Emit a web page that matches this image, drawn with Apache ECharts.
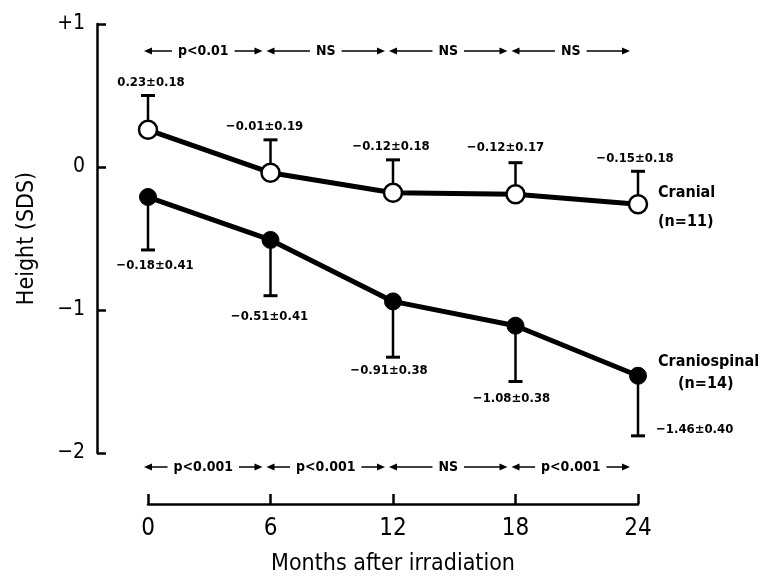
<!DOCTYPE html>
<html><head><meta charset="utf-8">
<script src="https://cdn.jsdelivr.net/npm/echarts@6/dist/echarts.min.js"></script>
<style>html,body{margin:0;padding:0;background:#fff}#c{width:762px;height:581px}</style>
</head><body><div id="c"></div>
<script>
// ---- data ----
const months = [0, 6, 12, 18, 24];
const xTickLabels = ['0', '6', '12', '18', '24'];
const yTickValues = [-2, -1, 0, 1];
const yTickLabels = ['−2', '−1', '0', '+1'];
const cranialMean = [0.26, -0.04, -0.18, -0.19, -0.26];
const cranialErr = [0.24, 0.23, 0.23, 0.22, 0.23];
const cranialText = ['0.23±0.18', '−0.01±0.19', '−0.12±0.18', '−0.12±0.17', '−0.15±0.18'];
const spinalMean = [-0.21, -0.51, -0.94, -1.11, -1.46];
const spinalErr = [0.37, 0.39, 0.39, 0.39, 0.42];
const spinalText = ['−0.18±0.41', '−0.51±0.41', '−0.91±0.38', '−1.08±0.38', '−1.46±0.40'];
const topTests = ['p<0.01', 'NS', 'NS', 'NS'];
const bottomTests = ['p<0.001', 'p<0.001', 'NS', 'p<0.001'];

// ---- layout (pixel nudges for labels) ----
const cranialDx = [3, -6, -2, -10, -3];
const cranialDy = [-13, -13, -13, -15, -13];
const spinalDx = [7, -1, -4, -4, 18];
const spinalDy = [16, 21, 13, 17, -6];
const spinalAlign = ['center', 'center', 'center', 'center', 'left'];

const COND = '"DejaVu Sans Condensed", "Liberation Sans", sans-serif';
const SMALL = 'bold 13px "DejaVu Sans Condensed", "Liberation Sans", sans-serif';

function errSeries(name, mean, err, dir, texts, dx, dy, align) {
  return {
    type: 'custom', name: name, z: 1, clip: false,
    data: months.map((m, i) => [m, mean[i], err[i]]),
    encode: { x: 0, y: 1 },
    renderItem: function (params, api) {
      const i = params.dataIndex;
      const p = api.coord([api.value(0), api.value(1)]);
      const e = api.coord([api.value(0), api.value(1) + dir * api.value(2)]);
      const cap = 7;
      return {
        type: 'group',
        children: [
          { type: 'line', shape: { x1: p[0], y1: p[1], x2: e[0], y2: e[1] }, style: { stroke: '#000', lineWidth: 2.5 } },
          { type: 'line', shape: { x1: e[0] - cap, y1: e[1], x2: e[0] + cap, y2: e[1] }, style: { stroke: '#000', lineWidth: 3 } },
          { type: 'text', style: { text: texts[i], x: e[0] + dx[i], y: e[1] + dy[i], align: align ? align[i] : 'center', verticalAlign: 'middle', font: SMALL, fill: '#000' } }
        ]
      };
    }
  };
}

function testSeries(labels, rowFn) {
  const data = [];
  for (let i = 0; i < labels.length; i++) data.push([months[i], months[i + 1]]);
  return {
    type: 'custom', z: 3, clip: false, silent: true,
    data: data,
    encode: { x: [0, 1] },
    renderItem: function (params, api) {
      const i = params.dataIndex;
      const cs = params.coordSys;
      const y = rowFn(cs);
      const xa = api.coord([api.value(0), 0])[0] - 4;
      const xb = api.coord([api.value(1), 0])[0] - 8;
      const h = 8, w = 3.5;
      return {
        type: 'group',
        children: [
          { type: 'line', shape: { x1: xa + 4, y1: y, x2: xb - 4, y2: y }, style: { stroke: '#000', lineWidth: 1.6 } },
          { type: 'polygon', shape: { points: [[xa, y], [xa + h, y - w], [xa + h, y + w]] }, style: { fill: '#000' } },
          { type: 'polygon', shape: { points: [[xb, y], [xb - h, y - w], [xb - h, y + w]] }, style: { fill: '#000' } },
          { type: 'text', style: { text: labels[i], x: (xa + xb) / 2, y: y, align: 'center', verticalAlign: 'middle', font: 'bold 14px "DejaVu Sans Condensed", "Liberation Sans", sans-serif', fill: '#000', backgroundColor: '#fff', padding: [0, 6] } }
        ]
      };
    }
  };
}

const chart = echarts.init(document.getElementById('c'), null, { renderer: 'canvas' });
chart.setOption({
  animation: false,
  backgroundColor: '#fff',
  grid: { left: 148, right: 124, top: 24, bottom: 124, containLabel: false },
  xAxis: {
    type: 'value', min: 0, max: 24, interval: 6, position: 'bottom', offset: 51,
    axisLine: { show: true, onZero: false, lineStyle: { color: '#000', width: 2.5 } },
    axisTick: { show: true, inside: true, length: 10, lineStyle: { color: '#000', width: 2.5 } },
    splitLine: { show: false },
    axisLabel: { margin: 13, color: '#000', fontSize: 24, fontFamily: COND, formatter: v => xTickLabels[months.indexOf(v)] },
    name: 'Months after irradiation', nameLocation: 'middle', nameGap: 49,
    nameTextStyle: { color: '#000', fontSize: 23, fontFamily: COND }
  },
  yAxis: {
    type: 'value', min: -2, max: 1, interval: 1, position: 'left', offset: 51,
    axisLine: { show: true, onZero: false, lineStyle: { color: '#000', width: 2.5 } },
    axisTick: { show: true, inside: true, length: 9, lineStyle: { color: '#000', width: 2.5 } },
    splitLine: { show: false },
    axisLabel: { margin: 12, color: '#000', fontSize: 21, fontFamily: COND, formatter: v => yTickLabels[yTickValues.indexOf(v)] },
    name: 'Height (SDS)', nameLocation: 'middle', nameGap: 58, nameRotate: 90,
    nameTextStyle: { color: '#000', fontSize: 23, fontFamily: COND }
  },
  series: [
    errSeries('cranialErr', cranialMean, cranialErr, 1, cranialText, cranialDx, cranialDy, null),
    errSeries('spinalErr', spinalMean, spinalErr, -1, spinalText, spinalDx, spinalDy, spinalAlign),
    {
      type: 'line', name: 'Cranial', z: 2,
      data: months.map((m, i) => [m, cranialMean[i]]),
      lineStyle: { color: '#000', width: 5 },
      symbol: 'circle', symbolSize: 18, showAllSymbol: true,
      itemStyle: { color: '#fff', borderColor: '#000', borderWidth: 2.5 },
      endLabel: { show: true, distance: 20, offset: [0, 3], formatter: 'Cranial\n(n=11)', color: '#000', fontFamily: COND, fontWeight: 'bold', fontSize: 16, lineHeight: 29 }
    },
    {
      type: 'line', name: 'Craniospinal', z: 2,
      data: months.map((m, i) => [m, spinalMean[i]]),
      lineStyle: { color: '#000', width: 5 },
      symbol: 'circle', symbolSize: 17, showAllSymbol: true,
      itemStyle: { color: '#000', borderColor: '#000', borderWidth: 1 },
      endLabel: {
        show: true, distance: 20, offset: [0, -3], formatter: '{a|Craniospinal}\n{b|(n=14)}', color: '#000',
        rich: {
          a: { fontFamily: COND, fontWeight: 'bold', fontSize: 16, lineHeight: 22, color: '#000' },
          b: { fontFamily: COND, fontWeight: 'bold', fontSize: 16, lineHeight: 22, color: '#000', padding: [0, 0, 0, 20] }
        }
      }
    },
    testSeries(topTests, cs => cs.y + 27),
    testSeries(bottomTests, cs => cs.y + cs.height + 14)
  ]
});
</script>
</body></html>
